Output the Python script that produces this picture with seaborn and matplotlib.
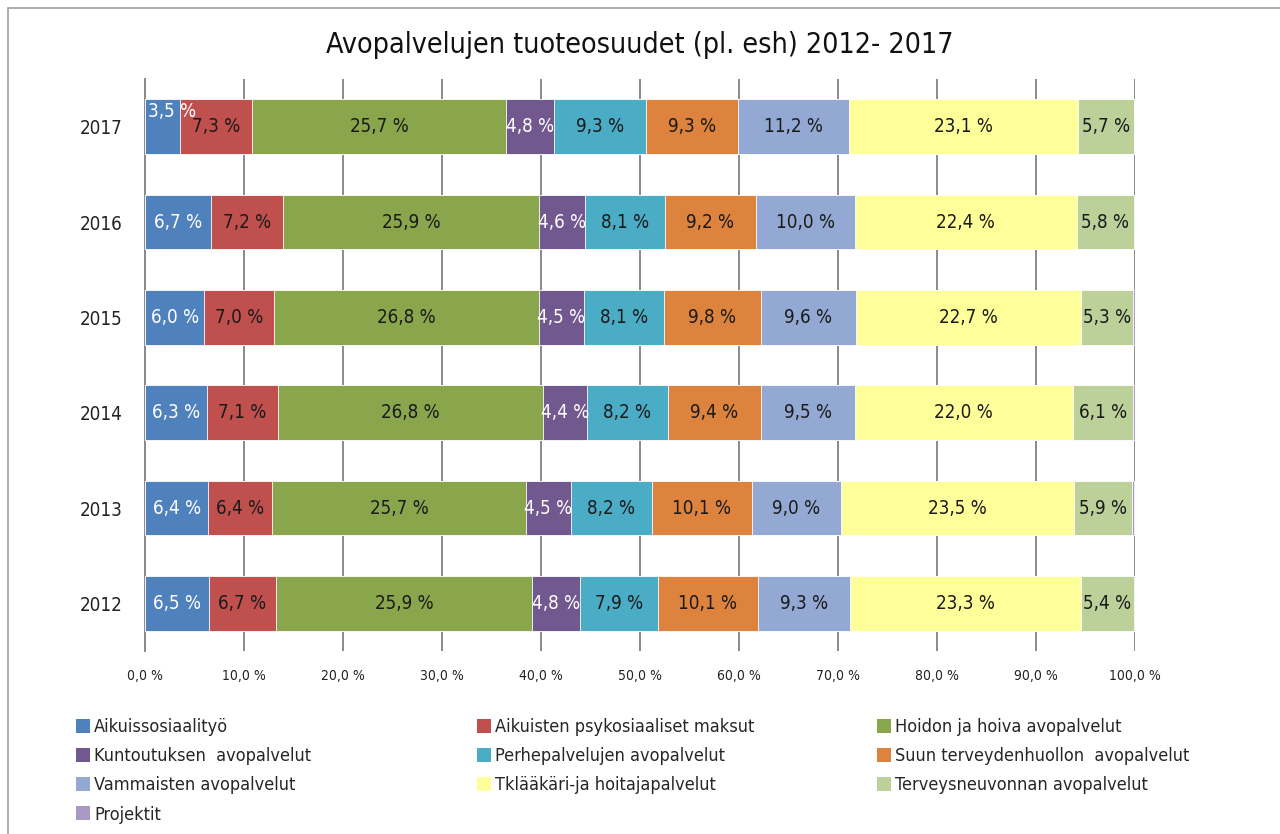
import matplotlib
matplotlib.use("Agg")
import matplotlib.pyplot as plt
from matplotlib.patches import Rectangle, Patch
import seaborn as sns
import pandas as pd
import numpy as np

sns.set_theme(style="white")
plt.rcParams["font.family"] = ["DejaVu Sans"]
plt.rcParams["font.stretch"] = "condensed"

years = ["2017", "2016", "2015", "2014", "2013", "2012"]
categories = [
    "Aikuissosiaalityö",
    "Aikuisten psykosiaaliset maksut",
    "Hoidon ja hoiva avopalvelut",
    "Kuntoutuksen  avopalvelut",
    "Perhepalvelujen avopalvelut",
    "Suun terveydenhuollon  avopalvelut",
    "Vammaisten avopalvelut",
    "Tklääkäri-ja hoitajapalvelut",
    "Terveysneuvonnan avopalvelut",
    "Projektit",
]
colors = ["#4F81BD", "#C0504D", "#8AA64D", "#71588F", "#4BACC6",
          "#DD833D", "#93A9D3", "#FFFF99", "#BCD19A", "#A998C4"]

# shares per category, years ordered 2017 -> 2012
aikuissosiaalityo = [3.5, 6.7, 6.0, 6.3, 6.4, 6.5]
psykosiaaliset = [7.3, 7.2, 7.0, 7.1, 6.4, 6.7]
hoiva = [25.7, 25.9, 26.8, 26.8, 25.7, 25.9]
kuntoutus = [4.8, 4.6, 4.5, 4.4, 4.5, 4.8]
perhepalvelut = [9.3, 8.1, 8.1, 8.2, 8.2, 7.9]
suun = [9.3, 9.2, 9.8, 9.4, 10.1, 10.1]
vammaiset = [11.2, 10.0, 9.6, 9.5, 9.0, 9.3]
tklaakari = [23.1, 22.4, 22.7, 22.0, 23.5, 23.3]
terveysneuvonta = [5.7, 5.8, 5.3, 6.1, 5.9, 5.4]
projektit = [0.0, 0.3, 0.2, 0.2, 0.2, 0.1]

series = [aikuissosiaalityo, psykosiaaliset, hoiva, kuntoutus, perhepalvelut,
          suun, vammaiset, tklaakari, terveysneuvonta, projektit]

df = pd.DataFrame({c: s for c, s in zip(categories, series)}, index=years)
cum = df.cumsum(axis=1)

fig = plt.figure(figsize=(12.8, 8.34), dpi=100)
ax = fig.add_axes([145 / 1280, 1 - 651 / 834, 990 / 1280, 572 / 834])

# stacked bars: draw cumulative totals from the last segment backwards
for cat, col in reversed(list(zip(categories, colors))):
    d = pd.DataFrame({"year": years, "value": cum[cat].values})
    sns.barplot(data=d, x="value", y="year", order=years, orient="h",
                color=col, width=0.57, edgecolor="white", linewidth=0.6,
                saturation=1, ax=ax, zorder=3)

ax.set_xlim(0, 100)
ax.set_ylim(5.5, -0.5)
ax.set_xlabel("")
ax.set_ylabel("")
ax.set_xticks(np.arange(0, 101, 10))
ax.set_xticklabels([f"{v:.1f} %".replace(".", ",") for v in np.arange(0, 101, 10)],
                   fontsize=10, color="#222222")
ax.tick_params(axis="x", length=0, pad=13)
ax.tick_params(axis="y", length=0, pad=16, labelsize=13.5, labelcolor="#222222")
ax.grid(axis="x", color="#8a8a8a", linewidth=1.4, zorder=0)
ax.grid(axis="y", visible=False)
for side in ["top", "right", "bottom"]:
    ax.spines[side].set_visible(False)
ax.spines["left"].set_color("#8a8a8a")
ax.spines["left"].set_linewidth(1.4)
ax.spines["left"].set_zorder(1)

# segment value labels
light_text = {"Aikuissosiaalityö", "Kuntoutuksen  avopalvelut"}
for yi, yr in enumerate(years):
    for cat in categories[:-1]:
        v = df.loc[yr, cat]
        txt = f"{v:.1f} %".replace(".", ",")
        col = "white" if cat in light_text else "#1a1a1a"
        if v < 4.0:
            ax.text(cum.loc[yr, cat] - v + 0.3, yi - 0.16, txt, ha="left",
                    va="center", fontsize=13.5, color=col, zorder=5)
        else:
            ax.text(cum.loc[yr, cat] - v / 2, yi, txt, ha="center",
                    va="center", fontsize=13.5, color=col, zorder=5)

fig.text(0.5, 1 - 45 / 834, "Avopalvelujen tuoteosuudet (pl. esh) 2012- 2017",
         ha="center", va="center", fontsize=20.5, color="#111111")

# legend laid out in three columns, filled row by row
handles = [Patch(facecolor=c, edgecolor="none") for c in colors]
col_x = [76, 477, 877]
for ci, x0 in enumerate(col_x):
    idx = list(range(ci, len(categories), 3))
    fig.legend([handles[i] for i in idx], [categories[i] for i in idx],
               loc="upper left", bbox_to_anchor=(x0 / 1280, 1 - 718 / 834),
               frameon=False, fontsize=13, handlelength=0.8,
               handleheight=0.8, handletextpad=0.2, labelspacing=0.62,
               borderaxespad=0, borderpad=0)

fig.patches.append(Rectangle((8 / 1280, -0.1), 1.2, 1 - 8 / 834 + 0.1,
                             transform=fig.transFigure, fill=False,
                             edgecolor="#a0a0a0", linewidth=1.2))

fig.savefig("out.png", dpi=100, facecolor="white")
